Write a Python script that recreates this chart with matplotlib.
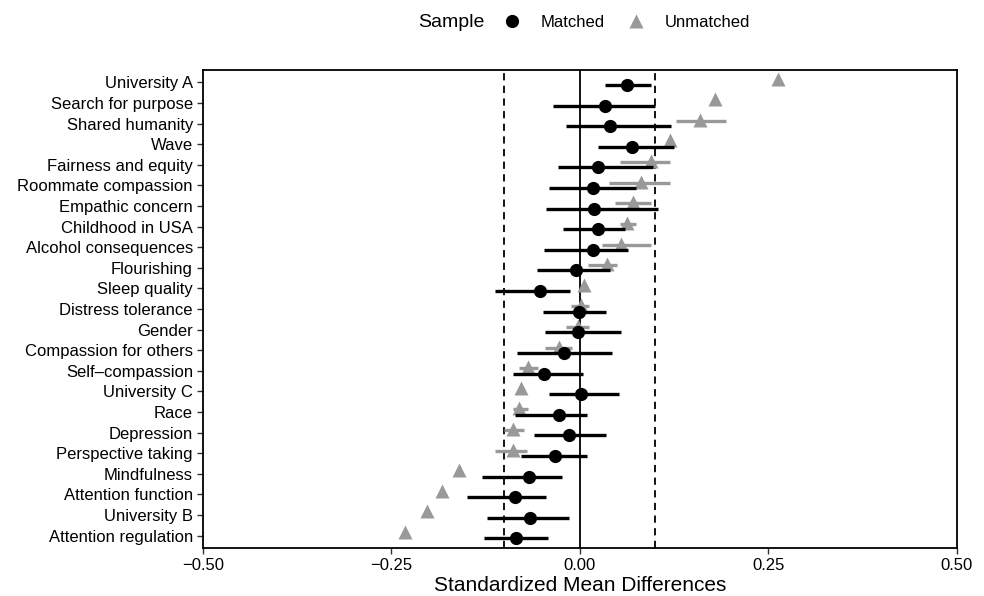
import numpy as np
import matplotlib.pyplot as plt
from matplotlib.lines import Line2D

plt.rcParams['font.family'] = ['Liberation Sans', 'DejaVu Sans']

# covariates, top to bottom
labels = ['University A', 'Search for purpose', 'Shared humanity', 'Wave',
          'Fairness and equity', 'Roommate compassion', 'Empathic concern',
          'Childhood in USA', 'Alcohol consequences', 'Flourishing',
          'Sleep quality', 'Distress tolerance', 'Gender', 'Compassion for others',
          'Self\u2013compassion', 'University C', 'Race', 'Depression',
          'Perspective taking', 'Mindfulness', 'Attention function',
          'University B', 'Attention regulation']

# matched sample: estimate, lower, upper
m_est = [0.063, 0.033, 0.040, 0.069, 0.024, 0.018, 0.019, 0.024, 0.018, -0.005,
         -0.053, -0.001, -0.003, -0.021, -0.048, 0.001, -0.028, -0.014, -0.033,
         -0.068, -0.086, -0.066, -0.084]
m_lo = [0.034, -0.036, -0.018, 0.024, -0.029, -0.041, -0.045, -0.022, -0.047, -0.057,
        -0.113, -0.049, -0.046, -0.083, -0.089, -0.041, -0.086, -0.061, -0.078,
        -0.130, -0.149, -0.123, -0.127]
m_hi = [0.094, 0.100, 0.121, 0.125, 0.097, 0.074, 0.103, 0.060, 0.064, 0.040,
        -0.013, 0.035, 0.054, 0.043, 0.004, 0.052, 0.010, 0.035, 0.009,
        -0.023, -0.045, -0.014, -0.042]

# unmatched sample
u_est = [0.263, 0.179, 0.159, 0.120, 0.094, 0.081, 0.070, 0.063, 0.054, 0.036,
         0.006, 0.002, -0.003, -0.028, -0.069, -0.078, -0.080, -0.088, -0.089,
         -0.160, -0.183, -0.202, -0.232]
u_lo = [0.263, 0.179, 0.128, 0.120, 0.053, 0.039, 0.047, 0.053, 0.030, 0.011,
        0.006, -0.012, -0.018, -0.046, -0.080, -0.078, -0.088, -0.100, -0.112,
        -0.160, -0.183, -0.202, -0.232]
u_hi = [0.263, 0.179, 0.194, 0.120, 0.119, 0.120, 0.094, 0.075, 0.095, 0.049,
        0.006, 0.012, 0.012, -0.011, -0.055, -0.078, -0.069, -0.074, -0.070,
        -0.160, -0.183, -0.202, -0.232]

gray = '#999999'
n = len(labels)
y = np.arange(n)[::-1].astype(float)
dodge = 0.13

fig = plt.figure(figsize=(9.84, 5.96), dpi=100)
ax = fig.add_axes([0.206, 0.0805, 0.7665, 0.802])

ax.axvline(0, color='black', lw=1.3, zorder=1)
ax.axvline(-0.1, color='black', lw=1.3, ls=(0, (4, 3)), zorder=1)
ax.axvline(0.1, color='black', lw=1.3, ls=(0, (4, 3)), zorder=1)

u_est = np.array(u_est)
m_est = np.array(m_est)
ax.hlines(y + dodge, u_lo, u_hi, color=gray, lw=2.4, zorder=2)
ax.plot(u_est, y + dodge + 0.05, '^', color=gray, ms=9.5, mec='none', zorder=3)
ax.hlines(y - dodge, m_lo, m_hi, color='black', lw=2.4, zorder=4)
ax.plot(m_est, y - dodge, 'o', color='black', ms=9.5, mec='none', zorder=5)

ax.set_xlim(-0.5, 0.5)
ax.set_ylim(-0.6, n - 0.4)
ax.set_xticks([-0.5, -0.25, 0, 0.25, 0.5])
ax.set_xticklabels(['\u22120.50', '\u22120.25', '0.00', '0.25', '0.50'])
ax.set_yticks(y)
ax.set_yticklabels(labels)
ax.tick_params(axis='both', labelsize=12, length=4, width=1, color='#333333',
               labelcolor='black', pad=3)
for s in ax.spines.values():
    s.set_linewidth(1.3)
ax.set_xlabel('Standardized Mean Differences', fontsize=15, labelpad=2)

fig.text(0.425, 0.963, 'Sample', fontsize=14, ha='left', va='center')
handles = [Line2D([], [], marker='o', color='black', ls='none', ms=9.5, mec='none'),
           Line2D([], [], marker='^', color=gray, ls='none', ms=9.5, mec='none')]
fig.legend(handles, ['Matched', 'Unmatched'], loc='center left',
           bbox_to_anchor=(0.512, 0.963), ncol=2, frameon=False, fontsize=12,
           handlelength=1.0, handletextpad=1.2, columnspacing=1.4,
           borderpad=0, borderaxespad=0)

fig.savefig('out.png', dpi=100)
